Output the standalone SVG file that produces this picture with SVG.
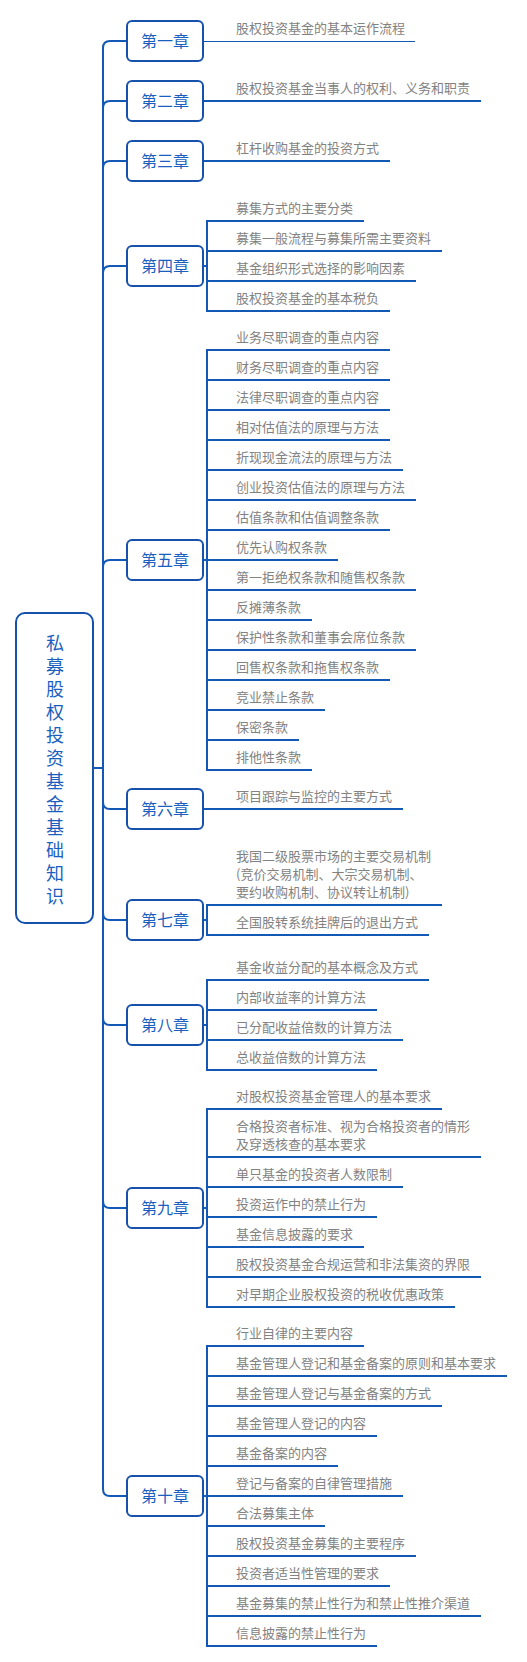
<svg xmlns="http://www.w3.org/2000/svg" width="527" height="1662" viewBox="0 0 527 1662">
<style>
.ln{fill:none;stroke:#1259b6;stroke-width:2}
.bx{fill:#fff;stroke:#1652ab;stroke-width:2}
.ch{font-family:"Noto Sans CJK SC","Noto Sans",sans-serif;font-size:16px;fill:#1a5fc0;text-anchor:middle}
.rt{font-family:"Noto Sans CJK SC","Noto Sans",sans-serif;font-size:18px;fill:#1a5fc0;text-anchor:middle}
.lf{font-family:"Noto Sans CJK SC","Noto Sans",sans-serif;font-size:13px;fill:#828282}
</style>
<rect width="527" height="1662" fill="#fff"/>
<g id="connectors">
<path class="ln" d="M93,768 H103"/>
<path class="ln" d="M103,768 V48 Q103,41 110,41 H127"/>
<path class="ln" d="M103,768 V108 Q103,101 110,101 H127"/>
<path class="ln" d="M103,768 V168 Q103,161 110,161 H127"/>
<path class="ln" d="M103,768 V273 Q103,266 110,266 H127"/>
<path class="ln" d="M103,768 V567 Q103,560 110,560 H127"/>
<path class="ln" d="M103,768 V802 Q103,809 110,809 H127"/>
<path class="ln" d="M103,768 V913 Q103,920 110,920 H127"/>
<path class="ln" d="M103,768 V1018 Q103,1025 110,1025 H127"/>
<path class="ln" d="M103,768 V1201 Q103,1208 110,1208 H127"/>
<path class="ln" d="M103,768 V1489 Q103,1496 110,1496 H127"/>
<!-- ch1 -->
<path class="ln" style="stroke-width:1" d="M203,41.5 H415"/>
<!-- ch2 -->
<path class="ln" d="M203,101 H481"/>
<!-- ch3 -->
<path class="ln" d="M203,161 H390"/>
<!-- ch4 -->
<path class="ln" d="M203,266 H207 M207,220 V312 M206,221 H364 M206,251 H442 M206,281 H416 M206,311 H390"/>
<!-- ch5 -->
<path class="ln" d="M203,560 H207 M207,349 V771 M206,350 H390 M206,380 H390 M206,410 H390 M206,440 H390 M206,470 H403 M206,500 H416 M206,530 H390 M206,560 H338 M206,590 H416 M206,620 H312 M206,650 H416 M206,680 H390 M206,710 H325 M206,740 H299 M206,770 H312"/>
<!-- ch6 -->
<path class="ln" d="M203,809 H403"/>
<!-- ch7 -->
<path class="ln" d="M203,920 H207 M207,904 V936 M206,905 H442 M206,935 H429"/>
<!-- ch8 -->
<path class="ln" d="M203,1025 H207 M207,979 V1071 M206,980 H429 M206,1010 H377 M206,1040 H403 M206,1070 H377"/>
<!-- ch9 -->
<path class="ln" d="M203,1208 H207 M207,1108 V1308 M206,1109 H442 M206,1157 H481 M206,1187 H403 M206,1217 H377 M206,1247 H364 M206,1277 H481 M206,1307 H455"/>
<!-- ch10 -->
<path class="ln" d="M203,1496 H207 M207,1345 V1647 M206,1346 H364 M206,1376 H507 M206,1406 H442 M206,1436 H377 M206,1466 H338 M206,1496 H403 M206,1526 H325 M206,1556 H416 M206,1586 H390 M206,1616 H481 M206,1646 H377"/>
</g>
<g id="root">
<rect class="bx" x="16" y="613" width="77" height="310" rx="9"/>
<text class="rt" x="55" y="650">私</text>
<text class="rt" x="55" y="673">募</text>
<text class="rt" x="55" y="696">股</text>
<text class="rt" x="55" y="719">权</text>
<text class="rt" x="55" y="742">投</text>
<text class="rt" x="55" y="765">资</text>
<text class="rt" x="55" y="788">基</text>
<text class="rt" x="55" y="811">金</text>
<text class="rt" x="55" y="834">基</text>
<text class="rt" x="55" y="857">础</text>
<text class="rt" x="55" y="880">知</text>
<text class="rt" x="55" y="903">识</text>
</g>
<g id="ch1">
<rect class="bx" x="127" y="21" width="76" height="40" rx="5"/>
<text class="ch" x="165" y="47">第一章</text>
<text class="lf" x="236" y="33">股权投资基金的基本运作流程</text>
</g>
<g id="ch2">
<rect class="bx" x="127" y="81" width="76" height="40" rx="5"/>
<text class="ch" x="165" y="107">第二章</text>
<text class="lf" x="236" y="93">股权投资基金当事人的权利、义务和职责</text>
</g>
<g id="ch3">
<rect class="bx" x="127" y="141" width="76" height="40" rx="5"/>
<text class="ch" x="165" y="167">第三章</text>
<text class="lf" x="236" y="153">杠杆收购基金的投资方式</text>
</g>
<g id="ch4">
<rect class="bx" x="127" y="246" width="76" height="40" rx="5"/>
<text class="ch" x="165" y="272">第四章</text>
<text class="lf" x="236" y="213">募集方式的主要分类</text>
<text class="lf" x="236" y="243">募集一般流程与募集所需主要资料</text>
<text class="lf" x="236" y="273">基金组织形式选择的影响因素</text>
<text class="lf" x="236" y="303">股权投资基金的基本税负</text>
</g>
<g id="ch5">
<rect class="bx" x="127" y="540" width="76" height="40" rx="5"/>
<text class="ch" x="165" y="566">第五章</text>
<text class="lf" x="236" y="342">业务尽职调查的重点内容</text>
<text class="lf" x="236" y="372">财务尽职调查的重点内容</text>
<text class="lf" x="236" y="402">法律尽职调查的重点内容</text>
<text class="lf" x="236" y="432">相对估值法的原理与方法</text>
<text class="lf" x="236" y="462">折现现金流法的原理与方法</text>
<text class="lf" x="236" y="492">创业投资估值法的原理与方法</text>
<text class="lf" x="236" y="522">估值条款和估值调整条款</text>
<text class="lf" x="236" y="552">优先认购权条款</text>
<text class="lf" x="236" y="582">第一拒绝权条款和随售权条款</text>
<text class="lf" x="236" y="612">反摊薄条款</text>
<text class="lf" x="236" y="642">保护性条款和董事会席位条款</text>
<text class="lf" x="236" y="672">回售权条款和拖售权条款</text>
<text class="lf" x="236" y="702">竞业禁止条款</text>
<text class="lf" x="236" y="732">保密条款</text>
<text class="lf" x="236" y="762">排他性条款</text>
</g>
<g id="ch6">
<rect class="bx" x="127" y="789" width="76" height="40" rx="5"/>
<text class="ch" x="165" y="815">第六章</text>
<text class="lf" x="236" y="801">项目跟踪与监控的主要方式</text>
</g>
<g id="ch7">
<rect class="bx" x="127" y="900" width="76" height="40" rx="5"/>
<text class="ch" x="165" y="926">第七章</text>
<text class="lf" x="236" y="861">我国二级股票市场的主要交易机制</text>
<text class="lf" x="236" y="879">(竞价交易机制、大宗交易机制、</text>
<text class="lf" x="236" y="897">要约收购机制、协议转让机制)</text>
<text class="lf" x="236" y="927">全国股转系统挂牌后的退出方式</text>
</g>
<g id="ch8">
<rect class="bx" x="127" y="1005" width="76" height="40" rx="5"/>
<text class="ch" x="165" y="1031">第八章</text>
<text class="lf" x="236" y="972">基金收益分配的基本概念及方式</text>
<text class="lf" x="236" y="1002">内部收益率的计算方法</text>
<text class="lf" x="236" y="1032">已分配收益倍数的计算方法</text>
<text class="lf" x="236" y="1062">总收益倍数的计算方法</text>
</g>
<g id="ch9">
<rect class="bx" x="127" y="1188" width="76" height="40" rx="5"/>
<text class="ch" x="165" y="1214">第九章</text>
<text class="lf" x="236" y="1101">对股权投资基金管理人的基本要求</text>
<text class="lf" x="236" y="1131">合格投资者标准、视为合格投资者的情形</text>
<text class="lf" x="236" y="1149">及穿透核查的基本要求</text>
<text class="lf" x="236" y="1179">单只基金的投资者人数限制</text>
<text class="lf" x="236" y="1209">投资运作中的禁止行为</text>
<text class="lf" x="236" y="1239">基金信息披露的要求</text>
<text class="lf" x="236" y="1269">股权投资基金合规运营和非法集资的界限</text>
<text class="lf" x="236" y="1299">对早期企业股权投资的税收优惠政策</text>
</g>
<g id="ch10">
<rect class="bx" x="127" y="1476" width="76" height="40" rx="5"/>
<text class="ch" x="165" y="1502">第十章</text>
<text class="lf" x="236" y="1338">行业自律的主要内容</text>
<text class="lf" x="236" y="1368">基金管理人登记和基金备案的原则和基本要求</text>
<text class="lf" x="236" y="1398">基金管理人登记与基金备案的方式</text>
<text class="lf" x="236" y="1428">基金管理人登记的内容</text>
<text class="lf" x="236" y="1458">基金备案的内容</text>
<text class="lf" x="236" y="1488">登记与备案的自律管理措施</text>
<text class="lf" x="236" y="1518">合法募集主体</text>
<text class="lf" x="236" y="1548">股权投资基金募集的主要程序</text>
<text class="lf" x="236" y="1578">投资者适当性管理的要求</text>
<text class="lf" x="236" y="1608">基金募集的禁止性行为和禁止性推介渠道</text>
<text class="lf" x="236" y="1638">信息披露的禁止性行为</text>
</g>
</svg>
